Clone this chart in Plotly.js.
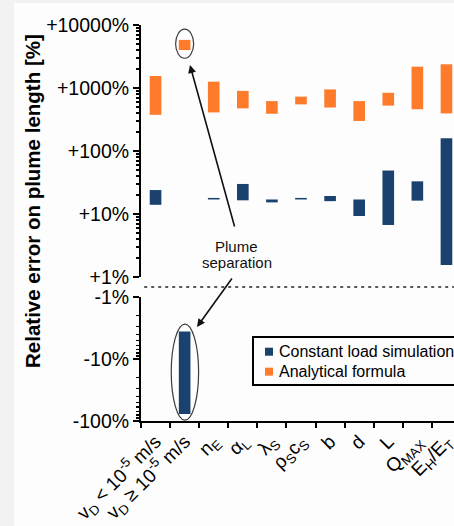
<!DOCTYPE html>
<html>
<head>
<meta charset="utf-8">
<script src="https://cdn.plot.ly/plotly-3.0.1.min.js"></script>
<style>
  html, body { margin: 0; padding: 0; overflow: hidden; background: #f2f2f2; width: 454px; height: 526px; }
  #chart { position: absolute; left: 14px; top: 3px; width: 466px; height: 523px; }
</style>
</head>
<body>
<div id="chart"></div>
<script>
// Parameters whose uncertainty is propagated to the plume length
const categories = [
  'v<sub>D</sub> &lt; 10<sup>-5</sup> m/s',
  'v<sub>D</sub> ≥ 10<sup>-5</sup> m/s',
  'n<sub>E</sub>',
  'α<sub>L</sub>',
  'λ<sub>S</sub>',
  'ρ<sub>S</sub>c<sub>S</sub>',
  'b',
  'd',
  'L',
  'Q<sub>MAX</sub>',
  'E<sub>H</sub>/E<sub>T</sub>'
];

// Analytical formula: positive relative error range [%]
const analyticalLow  = [375, 4000, 410, 475, 390, 550, 490, 300, 525, 460, 395];
const analyticalHigh = [1550, 5800, 1260, 900, 620, 730, 950, 620, 840, 2180, 2380];

// Constant load simulation: positive relative error range [%]
const simPosLow  = [14, null, 17.0, 16.5, 15.3, 17.0, 16.0, 9.3, 6.7, 16.3, 1.55];
const simPosHigh = [24, null, 18.0, 30, 17.0, 18.0, 19.3, 17.0, 49, 33, 160];

// Constant load simulation: negative relative error range, magnitude [%]
const simNegLow  = [null, 3.6, null, null, null, null, null, null, null, null, null];
const simNegHigh = [null, 77, null, null, null, null, null, null, null, null, null];

// Axis tick labels
const posTickVals = [1, 10, 100, 1000, 10000];
const posTickText = ['+1%', '+10%', '+100%', '+1000%', '+10000%'];
const negTickVals = [1, 10, 100];
const negTickText = ['-1%', '-10%', '-100%'];

const ORANGE = '#fd7b2b';
const BLUE = '#1b426e';
const FONT = 'Liberation Sans, Arial, Helvetica, sans-serif';

function span(lo, hi) {
  return lo.map((v, i) => (v == null || hi[i] == null) ? null : hi[i] - v);
}
function minorTicks(maxDecade) {
  const out = [];
  for (let d = 0; d < maxDecade; d++) {
    for (let k = 2; k <= 9; k++) out.push(k * Math.pow(10, d));
  }
  return out;
}

const barWidth = 0.4;

const traces = [
  {
    type: 'bar', name: 'Analytical formula',
    x: categories, base: analyticalLow, y: span(analyticalLow, analyticalHigh),
    width: barWidth, marker: { color: ORANGE, line: { width: 0 } },
    xaxis: 'x', yaxis: 'y'
  },
  {
    type: 'bar', name: 'Constant load simulation',
    x: categories, base: simPosLow, y: span(simPosLow, simPosHigh),
    width: barWidth, marker: { color: BLUE, line: { width: 0 } },
    xaxis: 'x', yaxis: 'y'
  },
  {
    type: 'bar', name: 'Constant load simulation (negative)',
    x: categories, base: simNegLow, y: span(simNegLow, simNegHigh),
    width: barWidth, marker: { color: BLUE, line: { width: 0 } },
    xaxis: 'x', yaxis: 'y2'
  }
];

const commonY = {
  type: 'log',
  showgrid: false, zeroline: false,
  showline: true, linecolor: '#000', linewidth: 2,
  ticks: 'outside', ticklen: 6, tickwidth: 2, tickcolor: '#000',
  tickmode: 'array',
  tickfont: { family: FONT, size: 19.5, color: '#000' },
  anchor: 'x'
};

// positions of the separator and legend in paper units
const sepY = 0.3384;
const legX0 = 0.35, legY0 = 0.091, legY1 = 0.212;
const legRow1 = 0.175, legRow2 = 0.1245;
const sq = 0.0125, sqH = 0.0101;

// ellipses around the plume-separation bars, padded in decades around the data
const k = 1;
const pad = (v, dec) => v * Math.pow(10, dec);
const ellUp = {
  x0: k - 0.31, x1: k + 0.31,
  y0: pad(analyticalLow[k], -0.13), y1: pad(analyticalHigh[k], 0.17)
};
const ellDown = {
  x0: k - 0.46, x1: k + 0.48,
  y0: pad(simNegLow[k], -0.12), y1: pad(simNegHigh[k], 0.1)
};

const layout = {
  width: 466, height: 523,
  margin: { l: 127, r: 19, t: 22, b: 105 },
  paper_bgcolor: '#fdfdfd', plot_bgcolor: '#fdfdfd',
  showlegend: false,
  barmode: 'overlay',
  hovermode: false,
  font: { family: FONT, color: '#000' },
  xaxis: {
    type: 'category',
    range: [-0.5, 10.5],
    showgrid: false, zeroline: false,
    showline: true, linecolor: '#000', linewidth: 2,
    ticks: 'outside', ticklen: 5, tickwidth: 2, tickcolor: '#000',
    tickson: 'boundaries',
    tickangle: -45,
    tickfont: { family: FONT, size: 19, color: '#000' },
    anchor: 'y2'
  },
  yaxis: Object.assign({}, commonY, {
    domain: [0.3636, 1],
    range: [0, 4],
    tickvals: posTickVals, ticktext: posTickText,
    minor: { tickmode: 'array', tickvals: minorTicks(4), ticks: 'outside', ticklen: 3.5, tickwidth: 1.5, tickcolor: '#000' }
  }),
  yaxis2: Object.assign({}, commonY, {
    domain: [0, 0.3131],
    range: [2, 0],
    tickvals: negTickVals, ticktext: negTickText,
    minor: { tickmode: 'array', tickvals: minorTicks(2), ticks: 'outside', ticklen: 3.5, tickwidth: 1.5, tickcolor: '#000' }
  }),
  shapes: [
    // separator between positive and negative errors
    { type: 'line', xref: 'paper', yref: 'paper', x0: 0.01, x1: 1.05, y0: sepY, y1: sepY,
      line: { color: '#222', width: 1.5, dash: '3px,4px' } },
    // plume separation ellipses
    { type: 'circle', xref: 'x', yref: 'y', x0: ellUp.x0, x1: ellUp.x1, y0: ellUp.y0, y1: ellUp.y1,
      line: { color: '#3a3a3a', width: 1.2 } },
    { type: 'circle', xref: 'x', yref: 'y2', x0: ellDown.x0, x1: ellDown.x1, y0: ellDown.y0, y1: ellDown.y1,
      line: { color: '#3a3a3a', width: 1.2 } },
    // legend frame and swatches
    { type: 'rect', xref: 'paper', yref: 'paper', x0: legX0, x1: 1.02, y0: legY0, y1: legY1,
      line: { color: '#000', width: 2 }, fillcolor: '#fdfdfd' },
    { type: 'rect', xref: 'paper', yref: 'paper', x0: 0.3875, x1: 0.3875 + 2 * sq, y0: legRow1 - sqH, y1: legRow1 + sqH,
      line: { width: 0 }, fillcolor: BLUE },
    { type: 'rect', xref: 'paper', yref: 'paper', x0: 0.3875, x1: 0.3875 + 2 * sq, y0: legRow2 - sqH, y1: legRow2 + sqH,
      line: { width: 0 }, fillcolor: ORANGE }
  ],
  annotations: [
    { text: 'Relative error on plume length [%]', xref: 'paper', yref: 'paper',
      x: -0.3375, y: 0.5556, textangle: -90, showarrow: false,
      xanchor: 'center', yanchor: 'middle',
      font: { family: FONT, size: 20.5, color: '#000', weight: 'bold' } },
    { text: 'Plume', xref: 'paper', yref: 'paper', x: 0.297, y: 0.4394, showarrow: false,
      xanchor: 'center', yanchor: 'middle', font: { family: FONT, size: 15, color: '#111' } },
    { text: 'separation', xref: 'paper', yref: 'paper', x: 0.30, y: 0.399, showarrow: false,
      xanchor: 'center', yanchor: 'middle', font: { family: FONT, size: 15, color: '#111' } },
    { text: '', xref: 'paper', yref: 'paper', x: 0.153, y: 0.899, ax: 45, ay: 163,
      showarrow: true, arrowhead: 2, arrowsize: 1, arrowwidth: 1.6, arrowcolor: '#111' },
    { text: '', xref: 'paper', yref: 'paper', x: 0.175, y: 0.2374, ax: 36, ay: -50,
      showarrow: true, arrowhead: 2, arrowsize: 1, arrowwidth: 1.6, arrowcolor: '#111' },
    { text: 'Constant load simulation', xref: 'paper', yref: 'paper', x: 0.425, y: legRow1,
      showarrow: false, xanchor: 'left', yanchor: 'middle', font: { family: FONT, size: 16, color: '#000' } },
    { text: 'Analytical formula', xref: 'paper', yref: 'paper', x: 0.425, y: legRow2,
      showarrow: false, xanchor: 'left', yanchor: 'middle', font: { family: FONT, size: 16, color: '#000' } }
  ]
};

Plotly.newPlot('chart', traces, layout, { displayModeBar: false, staticPlot: true });
</script>
</body>
</html>
